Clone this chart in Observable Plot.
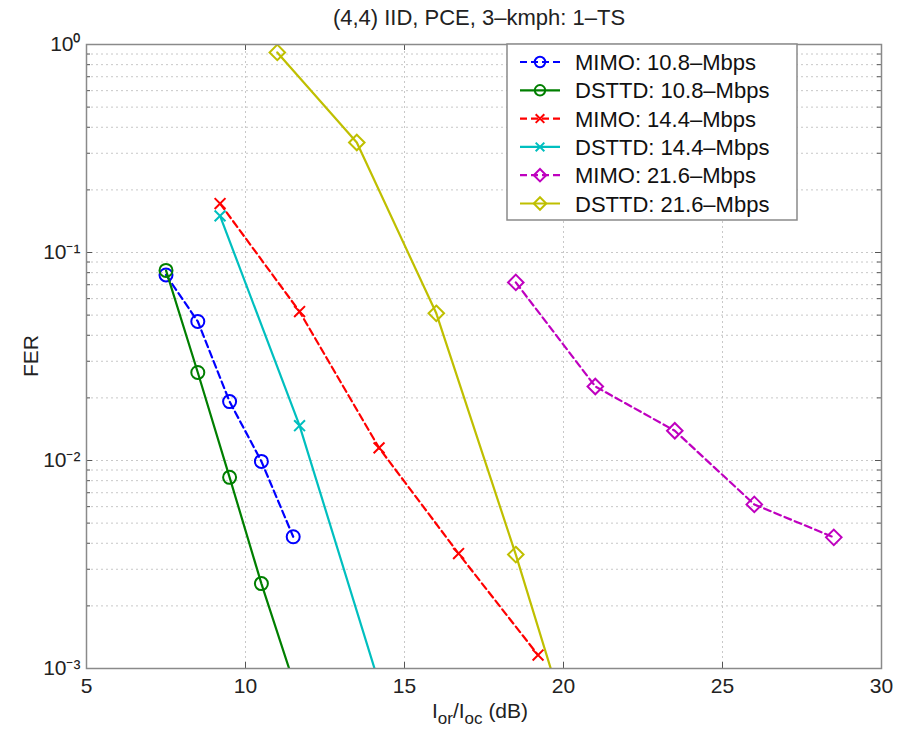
<!DOCTYPE html>
<html><head><meta charset="utf-8">
<script src="https://cdn.jsdelivr.net/npm/d3@7"></script>
<script src="https://cdn.jsdelivr.net/npm/@observablehq/plot@0.6"></script>
<style>
body{margin:0;background:#fff}
#chart svg{font-family:"Liberation Sans",Arial,Helvetica,sans-serif;background:#fff}
</style>
</head><body><div id="chart"></div>
<script>
// ---- data ----
const chartTitle = "(4,4) IID, PCE, 3\u2013kmph: 1\u2013TS";
const seriesNames = ["MIMO: 10.8\u2013Mbps","DSTTD: 10.8\u2013Mbps","MIMO: 14.4\u2013Mbps","DSTTD: 14.4\u2013Mbps","MIMO: 21.6\u2013Mbps","DSTTD: 21.6\u2013Mbps"];
const mimo108X = [7.5, 8.5, 9.5, 10.5, 11.5];
const mimo108Y = [0.078, 0.0466, 0.0192, 0.0099, 0.0043];
const dsttd108X = [7.5, 8.5, 9.5, 10.5, 11.5];
const dsttd108Y = [0.082, 0.0265, 0.0083, 0.00256, 0.00087];
const mimo144X = [9.2, 11.7, 14.2, 16.7, 19.2];
const mimo144Y = [0.172, 0.052, 0.0115, 0.00357, 0.00116];
const dsttd144X = [9.2, 11.7, 14.2];
const dsttd144Y = [0.15, 0.0147, 0.00085];
const mimo216X = [18.5, 21, 23.5, 26, 28.5];
const mimo216Y = [0.0718, 0.0227, 0.0139, 0.00615, 0.00427];
const dsttd216X = [11, 13.5, 16, 18.5, 21];
const dsttd216Y = [0.916, 0.338, 0.051, 0.00353, 0.0002];
const xTicks = [5, 10, 15, 20, 25, 30];
const yTicks = [1e-3, 1e-2, 1e-1, 1];
const yTickLabels = ["10\u207B\u00B3", "10\u207B\u00B2", "10\u207B\u00B9", "10\u2070"];

// ---- styles ----
const colors = ["#0000ff", "#007f00", "#ff0000", "#00bfbf", "#bf00bf", "#bfbf00"];
const dashed = [true, false, true, false, true, false];
const symbols = ["circle", "circle", "times", "times", "diamond2", "diamond2"];
const symR = [6.5, 6.5, 5, 5, 7, 7];

const xs = [mimo108X, dsttd108X, mimo144X, dsttd144X, mimo216X, dsttd216X];
const ys = [mimo108Y, dsttd108Y, mimo144Y, dsttd144Y, mimo216Y, dsttd216Y];
const seriesData = seriesNames.map((name, i) => xs[i].map((x, j) => ({series: name, x, y: ys[i][j]})));

const minorY = [];
for (let e = -3; e < 0; e++) for (let m = 1; m <= 9; m++) minorY.push(m * Math.pow(10, e));
minorY.push(1);
const gridY = minorY.filter(v => v > 1e-3 && v < 1);
const gridX = xTicks.filter(v => v > 5 && v < 30);

const W = 898, H = 738;
const mL = 86, mR = 17, mT = 44, mB = 70;
const pxPerX = (W - mL - mR) / 25;
const decadePx = (H - mT - mB) / 3;
const tx = px => px / pxPerX;              // px -> x data units
const ty = px => Math.pow(10, px / decadePx); // px -> y factor

const marks = [
  Plot.ruleY(gridY, {x1: 5, x2: 30, stroke: "#c8c8c8", strokeWidth: 1, strokeDasharray: "2,3"}),
  Plot.ruleX(gridX, {y1: 1e-3, y2: 1, stroke: "#c8c8c8", strokeWidth: 1, strokeDasharray: "2,3"}),
  Plot.ruleY(minorY, {x1: 5, x2: d => 5 + tx(yTicks.includes(d) ? 6 : 4), stroke: "#555"}),
  Plot.ruleY(minorY, {x1: d => 30 - tx(yTicks.includes(d) ? 6 : 4), x2: 30, stroke: "#555"}),
  Plot.ruleX(xTicks, {y1: 1e-3, y2: 1e-3 * ty(6), stroke: "#555"}),
  Plot.ruleX(xTicks, {y1: 1 / ty(6), y2: 1, stroke: "#555"}),
];
seriesData.forEach((data, i) => {
  marks.push(Plot.line(data, {x: "x", y: "y", stroke: colors[i], strokeWidth: 2.2,
    strokeDasharray: dashed[i] ? "7,4" : null, clip: true}));
  marks.push(Plot.dot(data, {x: "x", y: "y", symbol: symbols[i], r: symR[i], stroke: colors[i],
    fill: "none", strokeWidth: 2, clip: true}));
});
marks.push(Plot.frame({stroke: "#8a8a8a", strokeWidth: 1.5}));
marks.push(Plot.axisX(xTicks, {tickSize: 0, tickPadding: 10, fontSize: 21, fill: "#222", label: null}));
marks.push(Plot.axisY(yTicks, {tickSize: 0, tickPadding: 6, fontSize: 21, fill: "#222", label: null,
  tickFormat: d => yTickLabels[yTicks.indexOf(d)]}));

const plot = Plot.plot({
  width: W, height: H,
  marginLeft: mL, marginRight: mR, marginTop: mT, marginBottom: mB,
  x: {domain: [5, 30]},
  y: {type: "log", domain: [1e-3, 1]},
  style: {fontFamily: "Liberation Sans, Arial, sans-serif", background: "#fff"},
  marks
});
document.getElementById("chart").appendChild(plot);

const svg = d3.select(plot);
// title
svg.append("text").attr("x", 479).attr("y", 25).attr("text-anchor", "middle")
  .attr("font-size", 22).attr("fill", "#222").text(chartTitle);
// y label
svg.append("text").attr("transform", `translate(38,${(mT + H - mB) / 2}) rotate(-90)`)
  .attr("text-anchor", "middle").attr("font-size", 21).attr("fill", "#222").text("FER");
// x label with subscripts
const xl = svg.append("text").attr("x", 480).attr("y", 718).attr("text-anchor", "middle")
  .attr("font-size", 21).attr("fill", "#222");
xl.append("tspan").text("I");
xl.append("tspan").attr("font-size", 17).attr("dy", 6).text("or");
xl.append("tspan").attr("dy", -6).text("/I");
xl.append("tspan").attr("font-size", 17).attr("dy", 6).text("oc");
xl.append("tspan").attr("dy", -6).text(" (dB)");

// legend (inside plot, top right)
const lg = svg.append("g").attr("text-anchor", "start");
const lx0 = 507, ly0 = mT, lw = 290, rowH = 28.3;
lg.append("rect").attr("x", lx0).attr("y", ly0).attr("width", lw).attr("height", 176)
  .attr("fill", "#fff").attr("stroke", "#8a8a8a").attr("stroke-width", 1.5);
seriesNames.forEach((name, i) => {
  const cy = ly0 + 18 + i * rowH;
  lg.append("line").attr("x1", lx0 + 13).attr("x2", lx0 + 53).attr("y1", cy).attr("y2", cy)
    .attr("stroke", colors[i]).attr("stroke-width", 2.2).attr("stroke-dasharray", dashed[i] ? "7,4" : null);
  const sym = {circle: d3.symbolCircle, times: d3.symbolTimes, diamond2: d3.symbolDiamond2}[symbols[i]];
  const r = symR[i] * 0.8;
  lg.append("path").attr("transform", `translate(${lx0 + 33},${cy})`)
    .attr("d", d3.symbol(sym, Math.PI * r * r)()).attr("fill", "none").attr("stroke", colors[i]).attr("stroke-width", 2);
  lg.append("text").attr("x", lx0 + 68).attr("y", cy + 8).attr("font-size", 22).attr("fill", "#111")
    .attr("text-anchor", "start").text(name);
});
</script>
</body></html>
